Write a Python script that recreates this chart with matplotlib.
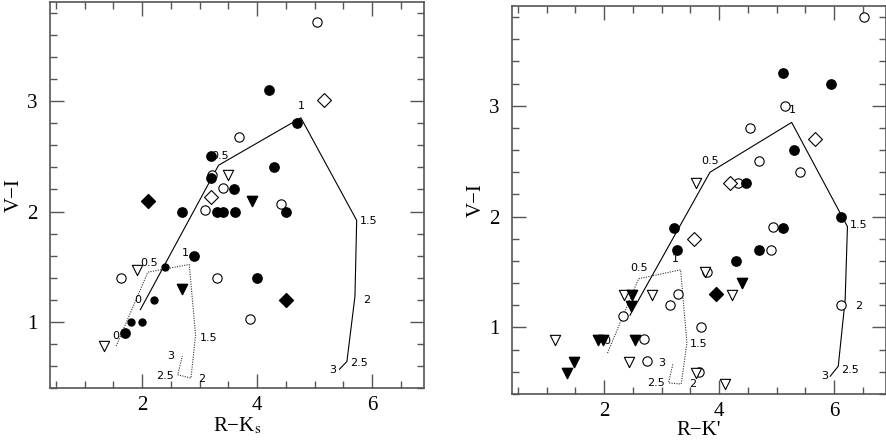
import numpy as np
import matplotlib
matplotlib.use('Agg')
import matplotlib.pyplot as plt
from matplotlib.ticker import MultipleLocator, FixedLocator

plt.rcParams['font.family'] = ['Liberation Serif', 'DejaVu Serif']
plt.rcParams['mathtext.fontset'] = 'stix'

# ---------------- left panel (R-Ks) ----------------
L_fcirc_x = [4.20, 4.70, 3.19, 4.30, 3.19, 3.60, 4.50, 2.70, 3.30, 3.40, 3.61, 2.90, 3.99, 1.70]
L_fcirc_y = [3.10, 2.80, 2.50, 2.40, 2.30, 2.20, 2.00, 2.00, 2.00, 2.00, 2.00, 1.60, 1.40, 0.90]
L_fsmall_x = [2.39, 2.20, 1.80, 2.00]
L_fsmall_y = [1.50, 1.20, 1.00, 1.00]
L_ocirc_x = [5.04, 3.69, 3.22, 3.40, 4.41, 3.10, 1.63, 3.30, 3.88]
L_ocirc_y = [3.72, 2.68, 2.33, 2.21, 2.07, 2.01, 1.40, 1.40, 1.03]
L_odiam_x = [5.17, 3.19]
L_odiam_y = [3.01, 2.13]
L_fdiam_x = [2.10, 4.50]
L_fdiam_y = [2.10, 1.20]
L_otri_x = [3.50, 1.91, 1.34]
L_otri_y = [2.33, 1.47, 0.78]
L_ftri_x = [3.91, 2.70]
L_ftri_y = [2.10, 1.30]

L_solid_x = [1.97, 3.33, 4.76, 5.73, 5.70, 5.56, 5.43]
L_solid_y = [1.11, 2.42, 2.85, 1.92, 1.23, 0.64, 0.57]
L_solid_lab = ['0', '0.5', '1', '1.5', '2', '2.5', '3']
L_solid_lx = [1.93, 3.36, 4.76, 5.94, 5.91, 5.77, 5.32]
L_solid_ly = [1.20, 2.50, 2.96, 1.91, 1.20, 0.63, 0.56]

L_dot_x = [1.55, 2.10, 2.82, 2.93, 2.85, 2.62, 2.70]
L_dot_y = [0.78, 1.45, 1.52, 0.88, 0.49, 0.52, 0.69]
L_dot_lab = ['0', '0.5', '1', '1.5', '2', '2.5', '3']
L_dot_lx = [1.55, 2.12, 2.75, 3.15, 3.04, 2.40, 2.50]
L_dot_ly = [0.87, 1.53, 1.62, 0.85, 0.48, 0.51, 0.69]

# ---------------- right panel (R-K') ----------------
R_fcirc_x = [5.11, 5.95, 5.30, 4.47, 6.11, 3.21, 5.11, 3.26, 4.70, 4.29]
R_fcirc_y = [3.30, 3.20, 2.60, 2.30, 2.00, 1.90, 1.90, 1.70, 1.70, 1.60]
R_ocirc_x = [6.51, 5.15, 4.54, 4.69, 5.41, 4.33, 4.94, 4.90, 3.79, 3.28, 3.15, 2.33,
             3.69, 2.69, 2.75, 3.65, 6.12]
R_ocirc_y = [3.80, 3.00, 2.80, 2.50, 2.40, 2.30, 1.91, 1.70, 1.50, 1.30, 1.20, 1.10,
             1.00, 0.90, 0.70, 0.60, 1.20]
R_odiam_x = [5.67, 4.19, 3.56]
R_odiam_y = [2.70, 2.30, 1.80]
R_fdiam_x = [3.94]
R_fdiam_y = [1.30]
R_otri_x = [3.59, 3.75, 4.23, 2.34, 2.83, 1.15, 2.43, 3.59, 4.11]
R_otri_y = [2.30, 1.50, 1.29, 1.29, 1.29, 0.89, 0.69, 0.59, 0.49]
R_ftri_x = [4.39, 2.48, 2.47, 1.90, 1.98, 2.53, 1.48, 1.35]
R_ftri_y = [1.40, 1.29, 1.19, 0.89, 0.89, 0.89, 0.69, 0.59]

R_solid_x = [2.45, 3.84, 5.26, 6.23, 6.19, 6.07, 5.93]
R_solid_y = [1.11, 2.40, 2.85, 1.91, 1.25, 0.65, 0.56]
R_solid_lab = ['0.5', '1', '1.5', '2', '2.5', '3']
R_solid_lx = [3.85, 5.28, 6.43, 6.42, 6.27, 5.83]
R_solid_ly = [2.50, 2.96, 1.92, 1.19, 0.62, 0.56]

R_dot_x = [2.06, 2.60, 3.33, 3.44, 3.34, 3.12, 3.20]
R_dot_y = [0.77, 1.44, 1.52, 0.86, 0.49, 0.50, 0.68]
R_dot_lab = ['0', '0.5', '1', '1.5', '2', '2.5', '3']
R_dot_lx = [2.05, 2.60, 3.23, 3.65, 3.54, 2.90, 3.00]
R_dot_ly = [0.88, 1.54, 1.62, 0.85, 0.49, 0.50, 0.68]

frame = '#555555'


def style(ax, xlabel):
    ax.set_xlim(0.4, 6.9)
    ax.set_ylim(0.4, 3.9)
    ax.xaxis.set_major_locator(FixedLocator([2, 4, 6]))
    ax.xaxis.set_minor_locator(MultipleLocator(0.5))
    ax.yaxis.set_major_locator(FixedLocator([1, 2, 3]))
    ax.yaxis.set_minor_locator(MultipleLocator(0.2))
    ax.tick_params(which='both', direction='in', top=True, right=True,
                   color=frame, width=1.0, labelsize=15)
    ax.tick_params(axis='x', pad=6)
    ax.tick_params(axis='y', pad=9)
    ax.tick_params(which='major', length=10)
    ax.tick_params(which='minor', length=5)
    for s in ax.spines.values():
        s.set_color(frame)
        s.set_linewidth(1.2)
    ax.set_xlabel(xlabel, fontsize=15, labelpad=0)
    ax.set_ylabel('V\u2212I', fontsize=15, labelpad=2)


def draw(ax, d):
    kw_o = dict(facecolors='white', edgecolors='black', linewidths=0.8, zorder=3)
    kw_f = dict(color='black', zorder=3)
    ax.plot(d['sx'], d['sy'], color='black', lw=0.8, zorder=2)
    ax.plot(d['dx'], d['dy'], color='#333333', lw=0.8, ls=(0, (1, 1.2)), zorder=2)
    ax.scatter(d['oc'][0], d['oc'][1], s=45, marker='o', **kw_o)
    ax.scatter(d['od'][0], d['od'][1], s=50, marker='D', **kw_o)
    ax.scatter(d['ot'][0], d['ot'][1], s=55, marker='v', **kw_o)
    ax.scatter(d['fc'][0], d['fc'][1], s=45, marker='o', **kw_f)
    if 'fs' in d:
        ax.scatter(d['fs'][0], d['fs'][1], s=25, marker='o', **kw_f)
    ax.scatter(d['fd'][0], d['fd'][1], s=50, marker='D', **kw_f)
    ax.scatter(d['ft'][0], d['ft'][1], s=55, marker='v', **kw_f)
    for t, x, y in zip(d['sl'], d['slx'], d['sly']):
        ax.text(x, y, t, fontsize=8, family='DejaVu Sans', ha='center', va='center', zorder=4)
    for t, x, y in zip(d['dl'], d['dlx'], d['dly']):
        ax.text(x, y, t, fontsize=8, family='DejaVu Sans', ha='center', va='center', zorder=4)


fig = plt.figure(figsize=(8.87, 4.45), dpi=100)
ax1 = fig.add_axes([50 / 887, 1 - 388 / 445, 374 / 887, 386 / 445])
ax2 = fig.add_axes([512 / 887, 1 - 394 / 445, 374 / 887, 388 / 445])

draw(ax1, dict(sx=L_solid_x, sy=L_solid_y, dx=L_dot_x, dy=L_dot_y,
               oc=(L_ocirc_x, L_ocirc_y), od=(L_odiam_x, L_odiam_y), ot=(L_otri_x, L_otri_y),
               fc=(L_fcirc_x, L_fcirc_y), fs=(L_fsmall_x, L_fsmall_y),
               fd=(L_fdiam_x, L_fdiam_y), ft=(L_ftri_x, L_ftri_y),
               sl=L_solid_lab, slx=L_solid_lx, sly=L_solid_ly,
               dl=L_dot_lab, dlx=L_dot_lx, dly=L_dot_ly))
draw(ax2, dict(sx=R_solid_x, sy=R_solid_y, dx=R_dot_x, dy=R_dot_y,
               oc=(R_ocirc_x, R_ocirc_y), od=(R_odiam_x, R_odiam_y), ot=(R_otri_x, R_otri_y),
               fc=(R_fcirc_x, R_fcirc_y),
               fd=(R_fdiam_x, R_fdiam_y), ft=(R_ftri_x, R_ftri_y),
               sl=R_solid_lab, slx=R_solid_lx, sly=R_solid_ly,
               dl=R_dot_lab, dlx=R_dot_lx, dly=R_dot_ly))

style(ax1, 'R\u2212K$_{\\rm s}$')
style(ax2, "R\u2212K'")

fig.savefig('out.png', dpi=100)
